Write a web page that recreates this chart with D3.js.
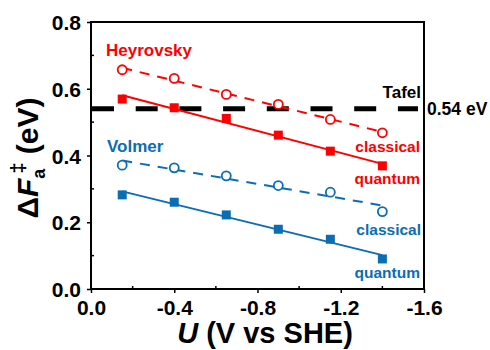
<!DOCTYPE html>
<html>
<head>
<meta charset="utf-8">
<script src="https://cdn.jsdelivr.net/npm/d3@7"></script>
<style>
  body { margin: 0; background: #fff; }
  svg text { font-family: "Liberation Sans", Arial, sans-serif; font-weight: bold; }
</style>
</head>
<body>
<div id="chart"></div>
<script>
// potentials (V vs SHE)
const potentials = [-0.15, -0.4, -0.65, -0.9, -1.15, -1.4];

// activation free energies (eV)
const heyrovskyClassical = [0.657, 0.631, 0.583, 0.553, 0.508, 0.468];
const heyrovskyQuantum = [0.569, 0.543, 0.511, 0.461, 0.413, 0.369];
const volmerClassical = [0.371, 0.363, 0.339, 0.310, 0.290, 0.232];
const volmerQuantum = [0.282, 0.260, 0.222, 0.179, 0.149, 0.090];

const tafelValue = 0.54;

const xTicks = [0, -0.4, -0.8, -1.2, -1.6];
const yTicks = [0, 0.2, 0.4, 0.6, 0.8];

const red = "#ff0000";
const blue = "#0b6db3";

const width = 490, height = 350;
const margin = { top: 22, right: 66, bottom: 61, left: 91 };

const svg = d3.select("#chart").append("svg")
    .attr("width", width)
    .attr("height", height);

const x = d3.scaleLinear()
    .domain([0, -1.6])
    .range([margin.left, width - margin.right]);

const y = d3.scaleLinear()
    .domain([0, 0.8])
    .range([height - margin.bottom, margin.top]);

// least squares line through a series
function fit(values) {
    const mx = d3.mean(potentials), my = d3.mean(values);
    let num = 0, den = 0;
    potentials.forEach((p, i) => {
        num += (p - mx) * (values[i] - my);
        den += (p - mx) * (p - mx);
    });
    const slope = num / den;
    const ends = [potentials[0], potentials[potentials.length - 1]];
    return ends.map(p => [p, my + slope * (p - mx)]);
}

const line = d3.line()
    .x(d => x(d[0]))
    .y(d => y(d[1]));

// axes
const xAxis = svg.append("g")
    .attr("transform", `translate(0,${y(0)})`)
    .call(d3.axisBottom(x).tickValues(xTicks).tickSize(4).tickPadding(5).tickFormat(d => d.toFixed(1)));

const yAxis = svg.append("g")
    .attr("transform", `translate(${x(0)},0)`)
    .call(d3.axisLeft(y).tickValues(yTicks).tickSize(4).tickPadding(6).tickFormat(d => d.toFixed(1)));

[xAxis, yAxis].forEach(a => {
    a.select(".domain").remove();
    a.selectAll(".tick line").attr("stroke", "#000").attr("stroke-width", 1.5);
    a.selectAll(".tick text")
        .attr("fill", "#000")
        .style("font-size", "21px");
});
xAxis.selectAll(".tick text").attr("dy", "0.8em");
yAxis.selectAll(".tick text").attr("dy", "0.36em");

// minor ticks pointing inward
const xMinor = [-0.2, -0.6, -1.0, -1.4];
const yMinor = [0.1, 0.3, 0.5, 0.7];
svg.append("g").selectAll("line")
    .data(xMinor)
    .enter().append("line")
    .attr("x1", d => x(d)).attr("x2", d => x(d))
    .attr("y1", y(0)).attr("y2", y(0) - 3)
    .attr("stroke", "#000").attr("stroke-width", 1.5);
svg.append("g").selectAll("line")
    .data(yMinor)
    .enter().append("line")
    .attr("x1", x(0)).attr("x2", x(0) + 3)
    .attr("y1", d => y(d)).attr("y2", d => y(d))
    .attr("stroke", "#000").attr("stroke-width", 1.5);

// frame
svg.append("rect")
    .attr("x", x(0))
    .attr("y", y(0.8))
    .attr("width", x(-1.6) - x(0))
    .attr("height", y(0) - y(0.8))
    .attr("fill", "none")
    .attr("stroke", "#000")
    .attr("stroke-width", 2);

// tafel reference line
svg.append("line")
    .attr("x1", x(0) + 1)
    .attr("x2", x(-1.6) - 6)
    .attr("y1", y(tafelValue))
    .attr("y2", y(tafelValue))
    .attr("stroke", "#000")
    .attr("stroke-width", 5)
    .attr("stroke-dasharray", "22,21.7");

// series
const series = [
    { values: heyrovskyClassical, color: red, open: true },
    { values: heyrovskyQuantum, color: red, open: false },
    { values: volmerClassical, color: blue, open: true },
    { values: volmerQuantum, color: blue, open: false }
];

series.forEach(s => {
    svg.append("path")
        .datum(fit(s.values))
        .attr("d", line)
        .attr("fill", "none")
        .attr("stroke", s.color)
        .attr("stroke-width", 2)
        .attr("stroke-dasharray", s.open ? "10,8" : null);

    const pts = potentials.map((p, i) => [p, s.values[i]]);
    if (s.open) {
        svg.append("g").selectAll("circle")
            .data(pts)
            .enter().append("circle")
            .attr("cx", d => x(d[0]))
            .attr("cy", d => y(d[1]))
            .attr("r", 4.5)
            .attr("fill", "#fff")
            .attr("stroke", s.color)
            .attr("stroke-width", 1.8);
    } else {
        svg.append("g").selectAll("rect")
            .data(pts)
            .enter().append("rect")
            .attr("x", d => x(d[0]) - 4.5)
            .attr("y", d => y(d[1]) - 4.5)
            .attr("width", 9)
            .attr("height", 9)
            .attr("fill", s.color);
    }
});

// labels
function label(text, px, py, color, size, anchor) {
    svg.append("text")
        .attr("x", px)
        .attr("y", py)
        .attr("fill", color)
        .attr("text-anchor", anchor || "start")
        .style("font-size", size + "px")
        .text(text);
}

label("Heyrovsky", 106, 56, red, 17);
label("Volmer", 107, 152, blue, 17);
label("classical", 420, 152, red, 15.5, "end");
label("quantum", 420, 184, red, 15.5, "end");
label("classical", 421, 235, blue, 15.5, "end");
label("quantum", 420, 278, blue, 15.5, "end");
label("Tafel", 421, 98, "#000", 17, "end");
label("0.54 eV", 427, 115, "#000", 17.5);

// x axis title
const xTitle = svg.append("text")
    .attr("x", 265)
    .attr("y", 343)
    .attr("text-anchor", "middle")
    .style("font-size", "29px");
xTitle.append("tspan").style("font-style", "italic").text("U");
xTitle.append("tspan").text(" (V vs SHE)");

// y axis title
const yTitle = svg.append("text")
    .attr("transform", "translate(38,158) rotate(-90)")
    .attr("text-anchor", "middle")
    .style("font-size", "30px");
yTitle.append("tspan").text("Δ");
yTitle.append("tspan").style("font-style", "italic").text("F");
yTitle.append("tspan").style("font-size", "18px").attr("dy", 7).text("a");
yTitle.append("tspan").style("font-size", "20px").attr("dx", -5).attr("dy", -20).text("‡");
yTitle.append("tspan").attr("dy", 13).text(" (eV)");
</script>
</body>
</html>
